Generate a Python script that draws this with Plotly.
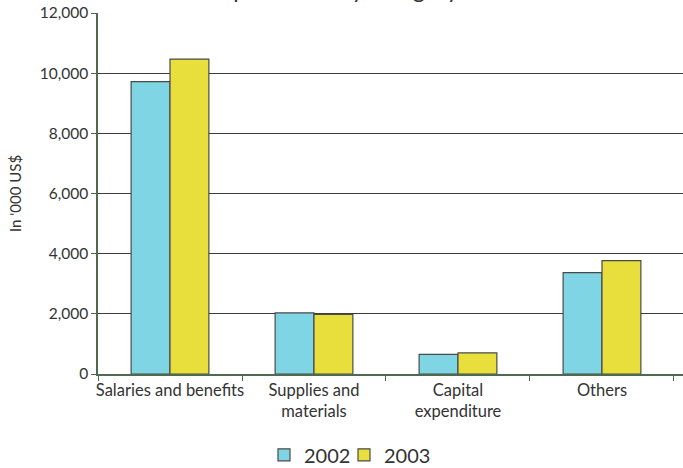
import plotly.graph_objects as go

categories = ["Salaries and benefits", "Supplies and<br>materials", "Capital<br>expenditure", "Others"]
values_2002 = [9720, 2030, 650, 3370]
values_2003 = [10470, 1980, 700, 3770]
series_names = ["2002", "2003"]
y_ticks = [0, 2000, 4000, 6000, 8000, 10000, 12000]
y_ticklabels = ["0", "2,000", "4,000", "6,000", "8,000", "10,000", "12,000"]
title_text = "Expenditure by category"
y_title = "In '000 US$"

FONT = "Lato"
TXT = "#333333"
AXIS = "#4f6b4f"
GRID = "#3a3a3a"
OUTLINE = "#4a4a4a"

fig = go.Figure()
fig.add_trace(go.Bar(x=categories, y=values_2002, name=series_names[0], legend="legend",
                     marker=dict(color="#7fd5e3", line=dict(color=OUTLINE, width=1.2))))
fig.add_trace(go.Bar(x=categories, y=values_2003, name=series_names[1], legend="legend2",
                     marker=dict(color="#e8df3c", line=dict(color=OUTLINE, width=1.2))))

leg_common = dict(orientation="h", xanchor="left", y=-0.17, yanchor="top",
                  font=dict(family=FONT, size=20, color=TXT), itemwidth=30,
                  bgcolor="rgba(0,0,0,0)")

fig.update_layout(
    width=683, height=468,
    margin=dict(l=98, r=0, t=13, b=94, autoexpand=False),
    paper_bgcolor="white", plot_bgcolor="white",
    font=dict(family=FONT, size=16, color=TXT),
    barmode="group", bargap=0.46, bargroupgap=0,
    showlegend=True,
    legend=dict(x=(264 - 98) / 585, **leg_common),
    legend2=dict(x=(344 - 98) / 585, **leg_common),
    annotations=[dict(text=title_text, xref="paper", yref="paper",
                      x=(333 - 98) / 585, y=1.0, xanchor="center", yanchor="bottom",
                      yshift=8, showarrow=False,
                      font=dict(family=FONT, size=23.5, color=TXT))],
)

fig.update_xaxes(
    type="category", range=[-0.5, 3.5626], automargin=False, tickangle=0,
    tickson="boundaries", ticks="outside", ticklen=5, tickcolor=AXIS,
    showline=True, linecolor=AXIS, linewidth=1.5,
    showgrid=False, tickfont=dict(family=FONT, size=16.5, color=TXT),
)
fig.update_yaxes(
    range=[0, 12000], tickvals=y_ticks, ticktext=y_ticklabels, automargin=False,
    ticks="outside", ticklen=5, tickcolor=AXIS,
    showline=True, linecolor=AXIS, linewidth=1.5,
    showgrid=True, gridcolor=GRID, gridwidth=1,
    zeroline=False,
    tickfont=dict(family=FONT, size=15.5, color=TXT),
    title=dict(text=y_title, font=dict(family=FONT, size=15, color=TXT), standoff=14),
)

fig.write_html("out.html", config={"displayModeBar": False},
               post_script="document.body.style.margin='0';document.body.style.overflow='hidden';")
